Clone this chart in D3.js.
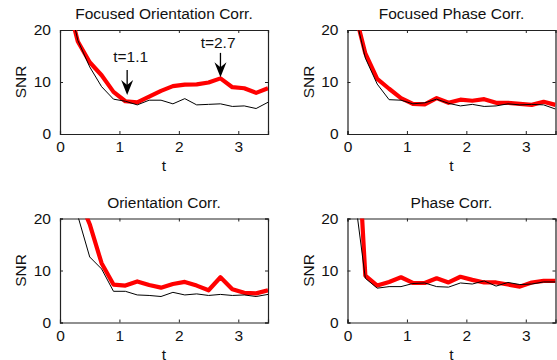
<!DOCTYPE html>
<meta charset="utf-8">
<script src="https://d3js.org/d3.v7.min.js"></script>
<style>
 body { margin: 0; background: #fff; }
 svg { display: block; font-family: "Liberation Sans", Arial, sans-serif; }
</style>
<div id="chart"></div>
<script>
 // sample times (all panels share them)
 const tValues = [0.1, 0.3, 0.5, 0.7, 0.9, 1.1, 1.3, 1.5, 1.7, 1.9, 2.1, 2.3, 2.5, 2.7, 2.9, 3.1, 3.3, 3.5];
 const xTicks = [0, 1, 2, 3];
 const yTicks = [0, 10, 20];
 const titles = ["Focused Orientation Corr.", "Focused Phase Corr.", "Orientation Corr.", "Phase Corr."];

 // red = thick curve, black = thin curve
 const focOrientRed   = [26.6, 17.8, 13.8, 11.3, 8.1, 6.3, 6.1, 7.2, 8.3, 9.2, 9.5, 9.55, 9.9, 10.7, 9.0, 8.8, 7.9, 8.8];
 const focOrientBlack = [28, 18.0, 12.9, 9.1, 6.7, 6.3, 5.6, 6.5, 6.5, 5.8, 6.8, 5.6, 5.7, 5.8, 5.3, 5.4, 4.9, 6.1];
 const focPhaseRed    = [24.5, 15.5, 10.6, 8.7, 6.9, 5.8, 5.7, 6.9, 6.0, 6.6, 6.4, 6.7, 6.0, 6.0, 5.8, 5.6, 6.2, 5.6];
 const focPhaseBlack  = [24.4, 14.6, 9.6, 6.6, 6.5, 5.8, 6.0, 6.7, 5.9, 5.4, 5.7, 5.3, 5.4, 5.8, 5.6, 5.7, 5.6, 4.8];
 const orientRed      = [30, 24.4, 18.9, 11.4, 7.3, 7.1, 7.9, 7.2, 6.7, 7.4, 7.8, 7.1, 6.2, 8.7, 6.4, 5.7, 5.6, 6.2];
 const orientBlack    = [30, 20.5, 12.6, 10.3, 6.0, 6.0, 5.3, 5.2, 5.0, 5.8, 5.3, 5.5, 5.2, 5.4, 5.2, 5.3, 5.0, 5.4];
 const phaseRed       = [50, 9.0, 7.1, 7.8, 8.7, 7.6, 7.6, 8.5, 7.7, 8.8, 8.2, 7.7, 7.7, 7.3, 6.9, 7.7, 8.0, 8.0];
 const phaseBlack     = [26.2, 8.5, 6.6, 6.9, 6.9, 7.5, 7.6, 6.9, 6.8, 7.6, 7.4, 8.0, 7.0, 7.7, 7.3, 7.4, 7.8, 7.8];

 // arrows in the first panel: arrow t, label t, arrow top / tip and label height in SNR units
 const annotations = [
     {label: "t=1.1", t: 1.13, textT: 1.19, top: 12.3, tip: 7.5, textAt: 14.9},
     {label: "t=2.7", t: 2.70, textT: 2.66, top: 15.6, tip: 10.9, textAt: 17.6}
 ];

 const panelData = [
     {red: focOrientRed, black: focOrientBlack, notes: annotations},
     {red: focPhaseRed, black: focPhaseBlack, notes: []},
     {red: orientRed, black: orientBlack, notes: []},
     {red: phaseRed, black: phaseBlack, notes: []}
 ];

 const W = 557, H = 360;
 const fontSize = 15.5;
 const plotW = 208, plotH = 104;
 const lefts = [60, 347.5];
 const tops = [30, 218.5];

 const svg = d3.select("#chart").append("svg")
               .attr("width", W).attr("height", H);

 panelData.forEach((p, i) => {
     const left = lefts[i % 2], top = tops[Math.floor(i / 2)];
     const g = svg.append("g").attr("transform", `translate(${left},${top})`);

     const x = d3.scaleLinear().domain([0, 3.5]).range([0, plotW]);
     const y = d3.scaleLinear().domain([0, 20]).range([plotH, 0]);

     g.append("clipPath").attr("id", "clip" + i)
      .append("rect").attr("width", plotW).attr("height", plotH);

     // axes with inward ticks on all four sides
     const axB = g.append("g").attr("transform", `translate(0,${plotH})`)
                  .call(d3.axisBottom(x).tickValues(xTicks).tickSize(-3).tickPadding(7).tickFormat(d3.format("d")));
     const axT = g.append("g")
                  .call(d3.axisTop(x).tickValues(xTicks).tickSize(-3).tickFormat(""));
     const axL = g.append("g")
                  .call(d3.axisLeft(y).tickValues(yTicks).tickSize(-3).tickPadding(9));
     const axR = g.append("g").attr("transform", `translate(${plotW},0)`)
                  .call(d3.axisRight(y).tickValues(yTicks).tickSize(-3).tickFormat(""));
     [axB, axT, axL, axR].forEach(a => {
         a.select(".domain").attr("stroke", "#222").attr("stroke-width", 1.2);
         a.selectAll(".tick line").attr("stroke", "#222");
         a.selectAll("text").attr("font-size", fontSize).attr("fill", "#111")
          .style("font-family", "Liberation Sans, Arial, sans-serif");
     });
     axB.selectAll("text").attr("dy", "0.71em");

     const line = d3.line().x((d, k) => x(tValues[k])).y(d => y(d));
     const lines = g.append("g").attr("clip-path", `url(#clip${i})`);
     lines.append("path").datum(p.red)
          .attr("d", line).attr("fill", "none").attr("stroke", "#ff0000")
          .attr("stroke-width", 4.2).attr("stroke-linejoin", "round");
     lines.append("path").datum(p.black)
          .attr("d", line).attr("fill", "none").attr("stroke", "#000")
          .attr("stroke-width", 1).attr("stroke-linejoin", "round");

     // title and labels
     g.append("text").attr("x", plotW / 2).attr("y", -11)
      .attr("text-anchor", "middle").attr("font-size", fontSize).attr("fill", "#111")
      .text(titles[i]);
     g.append("text").attr("x", plotW / 2).attr("y", plotH + 37)
      .attr("text-anchor", "middle").attr("font-size", fontSize).attr("fill", "#111")
      .text("t");
     g.append("text").attr("transform", `translate(-34,${plotH / 2}) rotate(-90)`)
      .attr("text-anchor", "middle").attr("font-size", fontSize).attr("fill", "#111")
      .text("SNR");

     // arrows
     p.notes.forEach(a => {
         const ax = x(a.t), yTop = y(a.top), yTip = y(a.tip);
         g.append("line").attr("x1", ax).attr("x2", ax)
          .attr("y1", yTop).attr("y2", yTip - 8)
          .attr("stroke", "#000").attr("stroke-width", 1.3);
         g.append("path")
          .attr("d", `M${ax},${yTip} L${ax - 6},${yTip - 15} L${ax},${yTip - 10} L${ax + 6},${yTip - 15} Z`)
          .attr("fill", "#000");
         g.append("text").attr("x", x(a.textT)).attr("y", y(a.textAt) + 5.5)
          .attr("text-anchor", "middle").attr("font-size", fontSize).attr("fill", "#111")
          .text(a.label);
     });
 });
</script>
